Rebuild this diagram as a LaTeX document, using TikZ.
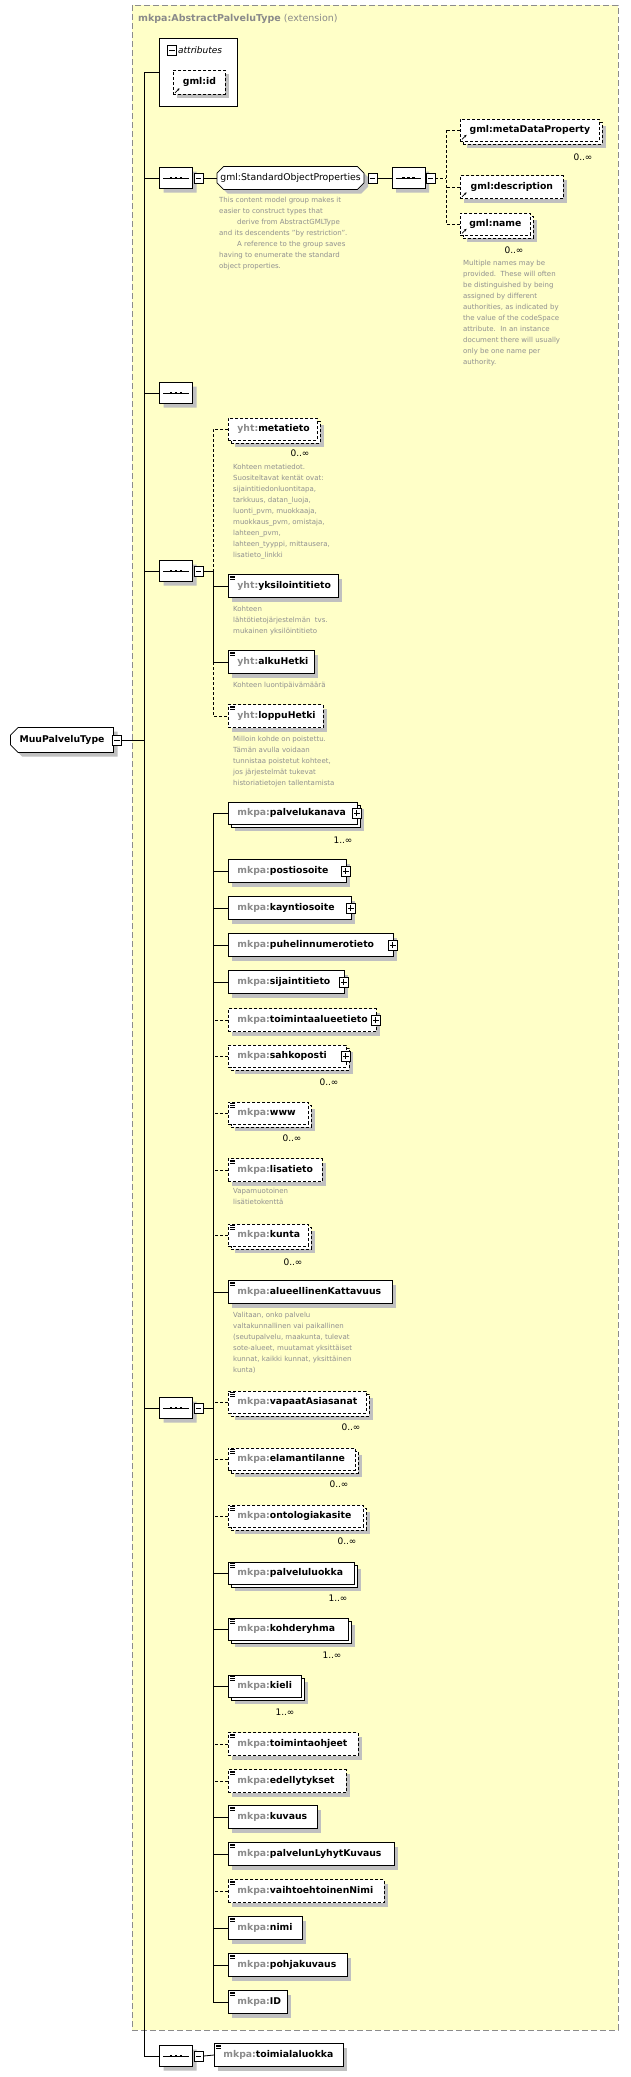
\documentclass[tikz,border=0pt]{standalone}
\usepackage{fontspec}
\setmainfont{DejaVu Sans}
\usetikzlibrary{shadows,shapes.misc,calc,arrows.meta}
\definecolor{bgyel}{HTML}{FFFFC8}
\definecolor{pfxgray}{HTML}{8A8A8A}
\definecolor{descgray}{HTML}{909090}
\definecolor{shgray}{HTML}{C0C0C0}
\definecolor{framegray}{HTML}{8C8C8C}
\newcommand\pfx[1]{\textcolor{pfxgray}{#1:}}
\newcommand\lblfont{\fontsize{9.3}{11}\selectfont\bfseries}
\newcommand\descfont{\fontsize{7}{11}\selectfont}
\tikzset{
 base/.style={line width=0.8pt},
 elbox/.style={draw, fill=white, line width=0.8pt, inner xsep=9pt, inner ysep=0pt, minimum height=23pt, align=left, font=\lblfont},
 opt/.style={dash pattern=on 3pt off 2pt},
 optline/.style={dash pattern=on 3pt off 2pt},
 single/.style={drop shadow={shadow xshift=4pt,shadow yshift=-4pt,fill=shgray,opacity=1}},
 multi/.style={minimum height=22pt, drop shadow={shadow xshift=7pt,shadow yshift=-7pt,fill=shgray,opacity=1}, copy shadow={shadow xshift=3pt,shadow yshift=-3pt}},
 seqn/.style={chamfered rectangle, chamfered rectangle xsep=5pt, draw, fill=white, line width=0.8pt, minimum width=33pt, minimum height=21pt, inner sep=0pt, drop shadow={shadow xshift=4pt,shadow yshift=-4pt,fill=shgray,opacity=1}},
 mbox/.style={draw, fill=white, line width=0.7pt, minimum width=9pt, minimum height=10pt, inner sep=0pt,
   path picture={\draw[line width=0.7pt] ([xshift=1.8pt]path picture bounding box.west) -- ([xshift=-1.8pt]path picture bounding box.east);}},
 pbox/.style={draw, fill=white, line width=0.7pt, minimum width=9pt, minimum height=10pt, inner sep=0pt,
   path picture={\draw[line width=0.7pt] ([xshift=1.8pt]path picture bounding box.west) -- ([xshift=-1.8pt]path picture bounding box.east)
     ([yshift=1.8pt]path picture bounding box.south) -- ([yshift=-1.8pt]path picture bounding box.north);}},
 mult/.style={font=\fontsize{9}{10}\selectfont, inner sep=0pt},
 desc/.style={font=\descfont, text=descgray, align=left, anchor=north west, inner sep=0pt},
}
\newcommand\Elem[6]{% name, y, right, prefix, local, style
  \pgfmathsetmacro\tw{#3-228-18}
  \node[elbox,#6,text width=\tw pt,anchor=west] (#1) at (228,#2) {\pfx{#4}#5};}
\newcommand\docicon[1]{\foreach \k in {0,1,2}{\draw[line width=0.6pt] ([xshift=2pt,yshift={-2pt-1.6pt*\k}]#1.north west) -- ++(5,0);}}
\newcommand\refarrow[1]{\draw[line width=0.7pt,-{Stealth[length=2.5pt,width=2.5pt]}] ([xshift=2pt,yshift=2pt]#1.south west) -- ([xshift=6.5pt,yshift=6.5pt]#1.south west);}
\newcommand\plusat[1]{\node[pbox] at ([xshift=-1pt]#1.east) {};}
\newcommand\seqdots[1]{\draw[line width=0.8pt] ([xshift=4pt]#1.west) -- ([xshift=-4pt]#1.east);
  \foreach \d in {-5,0,5}{\fill ([xshift=\d pt]#1.center) ++(-1.3,-1.3) rectangle ++(2.6,2.6);}}
\begin{document}
\begin{tikzpicture}[x=1pt,y=-1pt]
\useasboundingbox (0,0) rectangle (630,2077);
\fill[white] (0,0) rectangle (630,2077);
\draw[fill=bgyel, draw=framegray, line width=1pt, dash pattern=on 6pt off 3pt] (132,5) rectangle (618,2030);
\node[anchor=west, font=\fontsize{9.5}{11}\selectfont, text=pfxgray, inner sep=0pt] (title) at (138,19) {\textbf{mkpa:AbstractPalveluType} (extension)};

% trunk
\coordinate (trunkT) at (144,72);
\coordinate (trunkB) at (144,2056);
\draw[base] (trunkT) -- (trunkB);

% attributes
\node[draw, fill=white, line width=0.8pt, minimum width=78pt, minimum height=68pt, anchor=north west, inner sep=0pt] (attr) at (159,38) {};
\node[mbox] (attrm) at (172,50) {};
\node[anchor=west, font=\fontsize{9}{10}\selectfont\itshape, inner sep=0pt] (attrt) at (178,50) {attributes};
\draw[base] (trunkT) -- (trunkT -| attr.west);
\node[elbox, opt, single, minimum width=52pt, minimum height=24pt, inner xsep=0pt, font=\lblfont\color{black}, anchor=north west] (gid) at (173,70) {gml:id};
\refarrow{gid}

% root
\node[draw, fill=white, line width=0.8pt, chamfered rectangle, chamfered rectangle corners={north west,south west}, chamfered rectangle xsep=4pt, minimum width=103pt, minimum height=25pt, inner sep=0pt, font=\lblfont, drop shadow={shadow xshift=4pt,shadow yshift=-4pt,fill=shgray,opacity=1}] (root) at (62,740) {MuuPalveluType};
\node[mbox] (rootm) at (117,740) {};
\draw[base] (rootm.east) -- (rootm.east -| trunkT);

% sequence 1
\node[seqn] (s1) at (176,178) {}; \seqdots{s1}
\node[mbox] (s1m) at (198.5,178) {};
\draw[base] (s1.west) -- (s1.west -| trunkT);
\node[chamfered rectangle, chamfered rectangle xsep=3pt, draw, fill=white, line width=0.8pt, minimum width=147pt, minimum height=23pt, inner sep=0pt, font=\fontsize{9.3}{11}\selectfont, drop shadow={shadow xshift=4pt,shadow yshift=-4pt,fill=shgray,opacity=1}] (sop) at (290.5,178) {gml:StandardObjectProperties};
\node[mbox] (sopm) at (372.5,178) {};
\draw[base] (s1m.east) -- (sop.west);
\node[seqn] (s2) at (408.5,178) {}; \seqdots{s2}
\node[mbox] (s2m) at (430.5,178) {};
\draw[base] (sopm.east) -- (s2.west);
\node[desc] (sopd) at (219,196.5) {This content model group makes it\\easier to construct types that\\\hspace*{18pt}derive from AbstractGMLType\\and its descendents "by restriction".\\\hspace*{18pt}A reference to the group saves\\having to enumerate the standard\\object properties.};

\coordinate (b2) at (446,178);
\node[elbox, opt, multi, minimum width=139pt, inner xsep=0pt, font=\lblfont\color{black}, anchor=west] (md) at (460,130) {gml:metaDataProperty};
\refarrow{md}
\node[mult] (mdm) at (583,157) {0..∞};
\node[elbox, opt, single, minimum width=103pt, inner xsep=0pt, font=\lblfont\color{black}, anchor=west] (gd) at (460,187) {gml:description};
\refarrow{gd}
\node[elbox, opt, multi, minimum width=70pt, inner xsep=0pt, font=\lblfont\color{black}, anchor=west] (gn) at (460,224) {gml:name};
\refarrow{gn}
\node[mult] (gnm) at (514,250) {0..∞};
\draw[base,optline] (s2m.east) -- (b2);
\draw[base,optline] (md.west -| b2) -- (gn.west -| b2);
\foreach \n in {md,gd,gn}{\draw[base,optline] (\n.west) -- (\n.west -| b2);}
\node[desc] (gnd) at (463,259.5) {Multiple names may be\\provided.\ \ These will often\\be distinguished by being\\assigned by different\\authorities, as indicated by\\the value of the codeSpace\\attribute.\ \ In an instance\\document there will usually\\only be one name per\\authority.};

% sequence 3
\node[seqn] (s3) at (176,393) {}; \seqdots{s3}
\draw[base] (s3.west) -- (s3.west -| trunkT);

% sequence 4
\node[seqn] (s4) at (176,571) {}; \seqdots{s4}
\node[mbox] (s4m) at (198.5,571) {};
\draw[base] (s4.west) -- (s4.west -| trunkT);
\coordinate (b4) at (213,571);
\draw[base] (s4m.east) -- (b4);
\Elem{mt}{429}{317}{yht}{metatieto}{opt,multi}
\node[mult] (mtm) at (300,453) {0..∞};
\node[desc] (mtd) at (233,463.5) {Kohteen metatiedot.\\Suositeltavat kentät ovat:\\sijaintitiedonluontitapa,\\tarkkuus, datan\_luoja,\\luonti\_pvm, muokkaaja,\\muokkaus\_pvm, omistaja,\\lahteen\_pvm,\\lahteen\_tyyppi, mittausera,\\lisatieto\_linkki};
\Elem{yk}{586}{338}{yht}{yksilointitieto}{single}\docicon{yk}
\node[desc] (ykd) at (233,605.5) {Kohteen\\lähtötietojärjestelmän\ \ tvs.\\mukainen yksilöintitieto};
\Elem{ah}{662}{314}{yht}{alkuHetki}{single}\docicon{ah}
\node[desc] (ahd) at (233,681.5) {Kohteen luontipäivämäärä};
\Elem{lh}{716}{323}{yht}{loppuHetki}{opt,single}\docicon{lh}
\node[desc] (lhd) at (233,735.5) {Milloin kohde on poistettu.\\Tämän avulla voidaan\\tunnistaa poistetut kohteet,\\jos järjestelmät tukevat\\historiatietojen tallentamista};
\draw[base,optline] (mt.west) -- (mt.west -| b4) -- (b4);
\draw[base] (b4) -- (ah.west -| b4);
\draw[base,optline] (ah.west -| b4) -- (lh.west -| b4) -- (lh.west);
\draw[base] (yk.west) -- (yk.west -| b4);
\draw[base] (ah.west) -- (ah.west -| b4);

% sequence 5
\node[seqn] (s5) at (176,1408) {}; \seqdots{s5}
\node[mbox] (s5m) at (198.5,1408) {};
\draw[base] (s5.west) -- (s5.west -| trunkT);
\coordinate (b5) at (213,1408);
\draw[base] (s5m.east) -- (b5);

\Elem{pk}{813}{357}{mkpa}{palvelukanava}{multi}\plusat{pk}
\node[mult] at (343,840) {1..∞};
\Elem{po}{871}{346}{mkpa}{postiosoite}{single}\plusat{po}
\Elem{ka}{908}{351}{mkpa}{kayntiosoite}{single}\plusat{ka}
\Elem{pu}{945}{393}{mkpa}{puhelinnumerotieto}{single}\plusat{pu}
\Elem{si}{982}{344}{mkpa}{sijaintitieto}{single}\plusat{si}
\Elem{ta}{1020}{376}{mkpa}{toimintaalueetieto}{opt,single}\plusat{ta}
\Elem{sp}{1056}{346}{mkpa}{sahkoposti}{opt,multi}\plusat{sp}
\node[mult] at (329,1082) {0..∞};
\Elem{ww}{1113}{308}{mkpa}{www}{opt,multi}\docicon{ww}
\node[mult] at (292,1138) {0..∞};
\Elem{li}{1170}{322}{mkpa}{lisatieto}{opt,single}\docicon{li}
\node[desc] (lid) at (233,1187.5) {Vapamuotoinen\\lisätietokenttä};
\Elem{ku}{1235}{308}{mkpa}{kunta}{opt,multi}\docicon{ku}
\node[mult] at (293,1262) {0..∞};
\Elem{ak}{1292}{392}{mkpa}{alueellinenKattavuus}{single}\docicon{ak}
\node[desc] (akd) at (233,1311.5) {Valitaan, onko palvelu\\valtakunnallinen vai paikallinen\\(seutupalvelu, maakunta, tulevat\\sote-alueet, muutamat yksittäiset\\kunnat, kaikki kunnat, yksittäinen\\kunta)};
\Elem{vs}{1402}{366}{mkpa}{vapaatAsiasanat}{opt,multi}\docicon{vs}
\node[mult] at (351,1427) {0..∞};
\Elem{et}{1459}{355}{mkpa}{elamantilanne}{opt,multi}\docicon{et}
\node[mult] at (339,1484) {0..∞};
\Elem{ok}{1516}{363}{mkpa}{ontologiakasite}{opt,multi}\docicon{ok}
\node[mult] at (347,1541) {0..∞};
\Elem{pl}{1573}{354}{mkpa}{palveluluokka}{multi}\docicon{pl}
\node[mult] at (338,1598) {1..∞};
\Elem{kr}{1629}{348}{mkpa}{kohderyhma}{multi}\docicon{kr}
\node[mult] at (332,1655) {1..∞};
\Elem{ki}{1686}{301}{mkpa}{kieli}{multi}\docicon{ki}
\node[mult] at (285,1712) {1..∞};
\Elem{toh}{1744}{358}{mkpa}{toimintaohjeet}{opt,single}\docicon{toh}
\Elem{ed}{1781}{346}{mkpa}{edellytykset}{opt,single}\docicon{ed}
\Elem{kv}{1817}{317}{mkpa}{kuvaus}{single}\docicon{kv}
\Elem{ply}{1854}{394}{mkpa}{palvelunLyhytKuvaus}{single}\docicon{ply}
\Elem{vn}{1891}{384}{mkpa}{vaihtoehtoinenNimi}{opt,single}\docicon{vn}
\Elem{ni}{1928}{302}{mkpa}{nimi}{single}\docicon{ni}
\Elem{pj}{1965}{347}{mkpa}{pohjakuvaus}{single}\docicon{pj}
\Elem{id}{2002}{287}{mkpa}{ID}{single}\docicon{id}

\draw[base] (pk.west -| b5) -- (id.west -| b5);
\foreach \n in {pk,po,ka,pu,si,ak,pl,kr,ki,kv,ply,ni,pj,id}{\draw[base] (\n.west) -- (\n.west -| b5);}
\foreach \n in {ta,sp,ww,li,ku,vs,et,ok,toh,ed,vn}{\draw[base,optline] (\n.west) -- (\n.west -| b5);}

% sequence 6
\node[seqn] (s6) at (176,2056) {}; \seqdots{s6}
\node[mbox] (s6m) at (198.5,2056) {};
\draw[base] (s6.west) -- (s6.west -| trunkT);
\pgfmathsetmacro\tw{343-214-18}
\node[elbox,single,text width=\tw pt,anchor=west] (tl) at (214,2055) {\pfx{mkpa}toimialaluokka};\docicon{tl}
\draw[base] (s6m.east) -- (tl.west);
\end{tikzpicture}
\end{document}
